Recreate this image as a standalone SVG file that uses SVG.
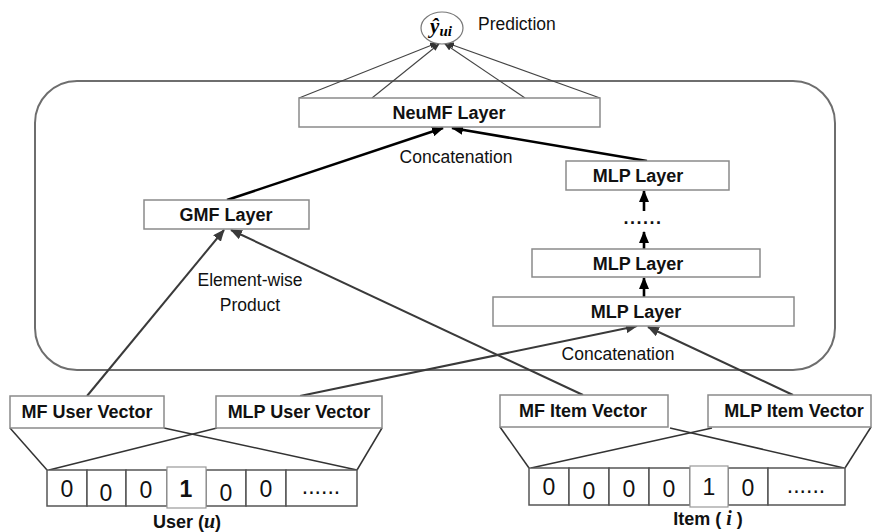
<svg xmlns="http://www.w3.org/2000/svg" width="872" height="532" viewBox="0 0 872 532">
<defs>
<marker id="ahBlack" markerUnits="userSpaceOnUse" markerWidth="12" markerHeight="10" refX="11" refY="5" orient="auto">
<path d="M0,0 L12,5 L0,10 z" fill="#000"/>
</marker>
<marker id="ahGray" markerUnits="userSpaceOnUse" markerWidth="12" markerHeight="10" refX="11" refY="5" orient="auto">
<path d="M0,0 L12,5 L0,10 z" fill="#3a3a3a"/>
</marker>
<marker id="ahSmall" markerUnits="userSpaceOnUse" markerWidth="8" markerHeight="6" refX="7" refY="3" orient="auto">
<path d="M0,0 L8,3 L0,6 z" fill="#333"/>
</marker>
</defs>
<style>
.box{fill:#fff;stroke:#8a8a8a;stroke-width:1.5}
.cell{fill:#fff;stroke:#555;stroke-width:1.5}
.lbl{font-family:"Liberation Sans",Arial,sans-serif;font-size:18px;font-weight:bold;fill:#111;text-anchor:middle}
.txt{font-family:"Liberation Sans",Arial,sans-serif;font-size:17.5px;fill:#111;text-anchor:middle}
.dig{font-family:"Liberation Sans",Arial,sans-serif;font-size:23px;fill:#111;text-anchor:middle}
.thick{stroke:#000;stroke-width:2.6;fill:none;marker-end:url(#ahBlack)}
.gray{stroke:#3a3a3a;stroke-width:2;fill:none;marker-end:url(#ahGray)}
.thin{stroke:#444;stroke-width:1.1;fill:none;marker-end:url(#ahSmall)}
.emb{stroke:#333;stroke-width:1.5;fill:none}
.math{font-family:"Liberation Serif","Times New Roman",serif;font-style:italic;font-weight:bold}
</style>

<g id="container">
<rect x="35" y="81" width="800" height="289" rx="42" ry="42" fill="none" stroke="#6e6e6e" stroke-width="2"/>
</g>

<g id="connectors">
<line class="thin" x1="299" y1="98" x2="437" y2="43"/>
<line class="thin" x1="372" y1="98" x2="439" y2="44"/>
<line class="thin" x1="525" y1="98" x2="445" y2="44"/>
<line class="thin" x1="600" y1="98" x2="447" y2="43"/>
<line class="thick" x1="227" y1="200" x2="443" y2="128"/>
<line class="thick" x1="647" y1="161" x2="452" y2="128"/>
<line class="gray" x1="87" y1="396" x2="224" y2="230"/>
<line class="gray" x1="583" y1="395" x2="231" y2="230"/>
<line class="gray" x1="300" y1="396" x2="637" y2="326"/>
<line class="gray" x1="793" y1="395" x2="648" y2="327"/>
<line class="thick" x1="644" y1="297" x2="644" y2="278"/>
<line class="thick" x1="644" y1="249" x2="644" y2="232"/>
<line class="thick" x1="644" y1="211" x2="644" y2="191"/>
<line class="emb" x1="10" y1="428" x2="47" y2="470"/>
<line class="emb" x1="164" y1="428" x2="357" y2="470"/>
<line class="emb" x1="217" y1="428" x2="49" y2="470"/>
<line class="emb" x1="382" y1="428" x2="357" y2="470"/>
<line class="emb" x1="500" y1="427" x2="529" y2="468"/>
<line class="emb" x1="670" y1="428" x2="844" y2="468"/>
<line class="emb" x1="712" y1="428" x2="531" y2="468"/>
<line class="emb" x1="871" y1="427" x2="845" y2="468"/>
</g>

<g id="prediction">
<ellipse cx="442" cy="28" rx="21" ry="16" fill="#fff" stroke="#777" stroke-width="1.2"/>
<text class="math" x="441" y="33" font-size="21" text-anchor="middle">ŷ<tspan font-size="15" dy="3">ui</tspan></text>
<text class="txt" x="478" y="30" style="text-anchor:start">Prediction</text>
</g>

<g id="neumf-layer">
<rect class="box" x="299" y="98" width="301" height="29"/>
<text class="lbl" x="449" y="119">NeuMF Layer</text>
</g>

<g id="gmf-layer">
<rect class="box" x="144" y="200" width="165" height="29"/>
<text class="lbl" x="226" y="221">GMF Layer</text>
</g>

<g id="mlp-layer-top">
<rect class="box" x="566" y="161" width="163" height="29"/>
<text class="lbl" x="638" y="182">MLP Layer</text>
</g>

<g id="mlp-dots">
<text class="lbl" x="643" y="224" letter-spacing="1.5">......</text>
</g>

<g id="mlp-layer-mid">
<rect class="box" x="532" y="249" width="228" height="28"/>
<text class="lbl" x="638" y="270">MLP Layer</text>
</g>

<g id="mlp-layer-bottom">
<rect class="box" x="493" y="297" width="301" height="29"/>
<text class="lbl" x="636" y="318">MLP Layer</text>
</g>

<g id="labels">
<text class="txt" x="456" y="163">Concatenation</text>
<text class="txt" x="618" y="360">Concatenation</text>
<text class="txt" x="250" y="286">Element-wise</text>
<text class="txt" x="250" y="311">Product</text>
</g>

<g id="mf-user-vector">
<rect class="box" x="10" y="396" width="154" height="32"/>
<text class="lbl" x="87" y="418">MF User Vector</text>
</g>

<g id="mlp-user-vector">
<rect class="box" x="216" y="396" width="166" height="32"/>
<text class="lbl" x="299" y="418">MLP User Vector</text>
</g>

<g id="mf-item-vector">
<rect class="box" x="500" y="395" width="168" height="32"/>
<text class="lbl" x="583" y="417">MF Item Vector</text>
</g>

<g id="mlp-item-vector">
<rect class="box" x="708" y="395" width="163" height="32"/>
<text class="lbl" x="794" y="417">MLP Item Vector</text>
</g>

<g id="user-input">
<rect class="cell" x="47" y="470" width="40" height="36"/>
<rect class="cell" x="87" y="470" width="39" height="36"/>
<rect class="cell" x="126" y="470" width="41" height="36"/>
<rect class="cell" x="206" y="470" width="40" height="36"/>
<rect class="cell" x="246" y="470" width="40" height="36"/>
<rect class="cell" x="286" y="470" width="71" height="36"/>
<rect x="167" y="467" width="39" height="41" fill="#fff" stroke="#999" stroke-width="1.2"/>
<text class="dig" x="67" y="497">0</text>
<text class="dig" x="106" y="501">0</text>
<text class="dig" x="146" y="498">0</text>
<text class="dig" x="186" y="497" font-weight="bold">1</text>
<text class="dig" x="226" y="501">0</text>
<text class="dig" x="266" y="497">0</text>
<text class="dig" x="321" y="494" font-size="17">......</text>
<text class="lbl" x="187" y="528">User (<tspan class="math" font-size="20">u</tspan>)</text>
</g>

<g id="item-input">
<rect class="cell" x="529" y="468" width="40" height="37"/>
<rect class="cell" x="569" y="468" width="40" height="37"/>
<rect class="cell" x="609" y="468" width="40" height="37"/>
<rect class="cell" x="649" y="468" width="41" height="37"/>
<rect class="cell" x="728" y="468" width="40" height="37"/>
<rect class="cell" x="768" y="468" width="77" height="37"/>
<rect x="690" y="466" width="38" height="41" fill="#fff" stroke="#999" stroke-width="1.2"/>
<text class="dig" x="549" y="495">0</text>
<text class="dig" x="589" y="499">0</text>
<text class="dig" x="629" y="497">0</text>
<text class="dig" x="669" y="497">0</text>
<text class="dig" x="709" y="495">1</text>
<text class="dig" x="748" y="496">0</text>
<text class="dig" x="806" y="493" font-size="17">......</text>
<text class="lbl" x="708" y="525">Item ( <tspan class="math" font-size="20">i</tspan> )</text>
</g>
</svg>
